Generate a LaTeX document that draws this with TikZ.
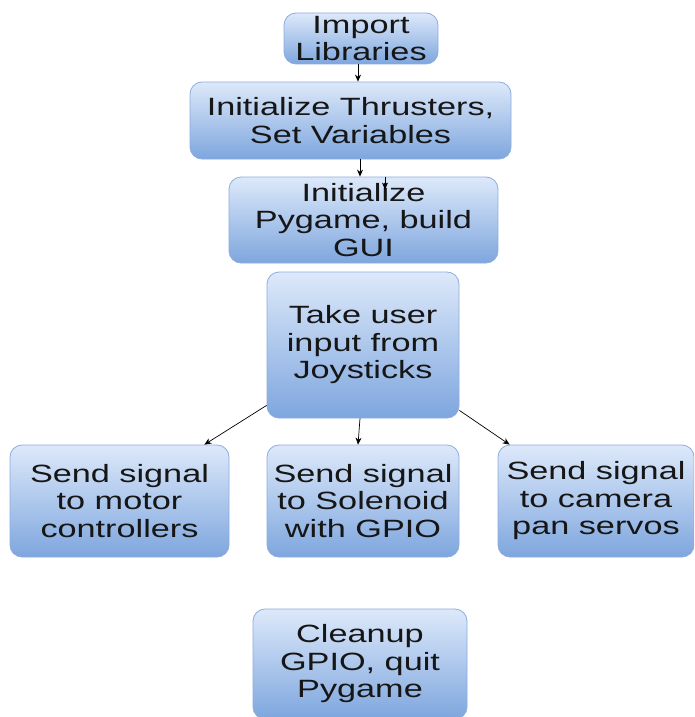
\documentclass[tikz,border=0pt]{standalone}
\usepackage{fontspec}
\setmainfont[FakeStretch=1.37]{Liberation Sans}
\usetikzlibrary{arrows.meta}
\definecolor{boxtop}{RGB}{221,233,250}
\definecolor{boxbot}{RGB}{126,166,222}
\definecolor{boxline}{RGB}{140,172,222}
\definecolor{txt}{RGB}{22,22,22}
\begin{document}
\begin{tikzpicture}[x=1pt,y=-1pt,
  box/.style={draw=boxline, line width=0.8pt, rounded corners=12pt,
    top color=boxtop, bottom color=boxbot, align=center, text=txt,
    inner sep=0pt, font=\fontsize{25}{27.5}\selectfont},
  arr/.style={draw=black, line width=0.7pt, -{Stealth[length=7pt,width=6pt]}}]
\useasboundingbox (0,0) rectangle (694,717);
\clip (0,0) rectangle (694,717);
\node[box, minimum width=154pt, minimum height=51pt] (b1) at (361,38.5) {Import\\Libraries};
\node[box, minimum width=321pt, minimum height=77pt] (b2) at (350.5,120.5) {Initialize Thrusters,\\Set Variables};
\node[box, minimum width=269pt, minimum height=86pt] (b3) at (363.5,220) {Initialize\\Pygame, build\\GUI};
\node[box, minimum width=192pt, minimum height=146pt] (b4) at (363,345) {Take user\\input from\\Joysticks};
\node[box, minimum width=219pt, minimum height=112pt] (b5) at (119.5,501) {Send signal\\to motor\\controllers};
\node[box, minimum width=192pt, minimum height=112pt] (b6) at (363,501) {Send signal\\to Solenoid\\with GPIO};
\node[box, minimum width=196pt, minimum height=112pt] (b7) at (596,501) {Send signal\\to camera\\pan servos};
\node[box, minimum width=214pt, minimum height=110pt] (b8) at (360,664) {Cleanup\\GPIO, quit\\Pygame};
\draw[arr] ([xshift=-3pt]b1.south) -- ([xshift=-3pt]b1.south |- b2.north);
\draw[arr] ([xshift=9.5pt]b2.south) -- ([xshift=9.5pt]b2.south |- b3.north);
\coordinate (s) at ([xshift=21.5pt]b3.north);
\draw[arr] (s) -- ([yshift=-13pt]s);
\draw[arr] ([yshift=13pt]b4.south west) -- ([xshift=-25pt]b5.north east);
\draw[arr] ([xshift=-3pt]b4.south) -- ([xshift=-5pt]b6.north);
\draw[arr] ([yshift=8pt]b4.south east) -- ([xshift=12pt]b7.north west);
\end{tikzpicture}
\end{document}
